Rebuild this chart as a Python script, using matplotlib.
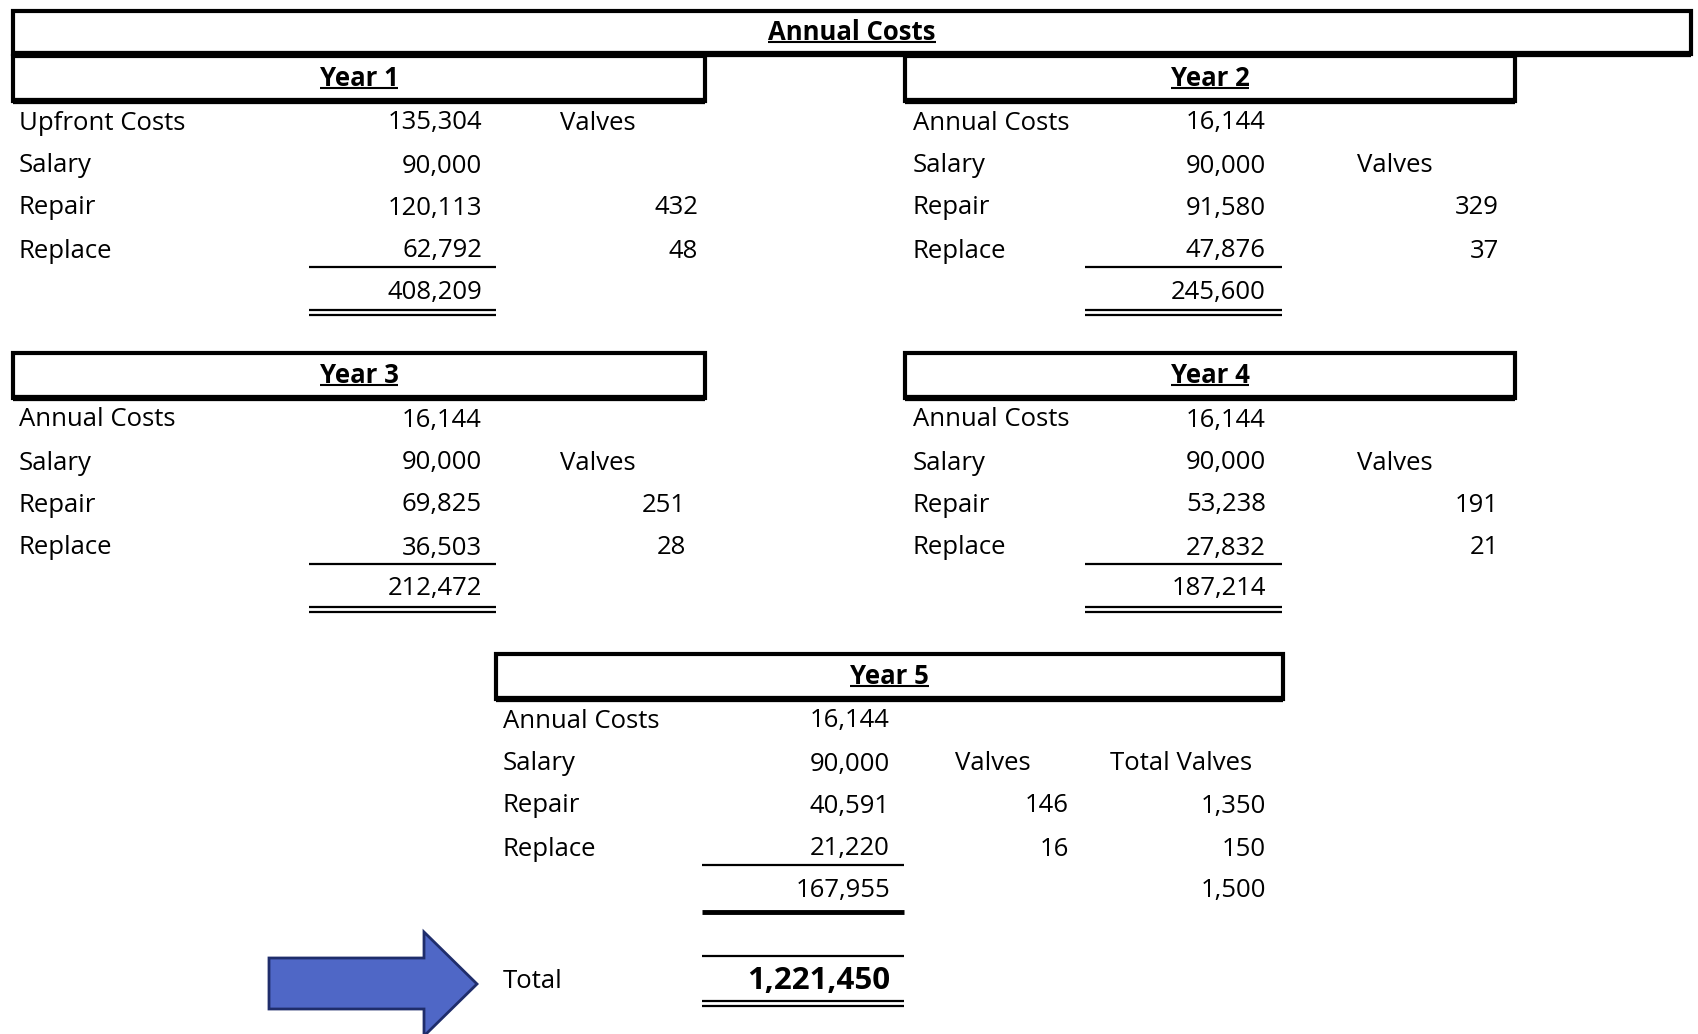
import matplotlib
matplotlib.use("Agg")
import matplotlib.pyplot as plt
from matplotlib.patches import Rectangle, Polygon

plt.rcParams['font.family'] = ['Open Sans', 'DejaVu Sans']

# ---- data ----
years = ["Year 1", "Year 2", "Year 3", "Year 4", "Year 5"]
first_labels = ["Upfront Costs", "Annual Costs", "Annual Costs", "Annual Costs", "Annual Costs"]
row_labels = ["Salary", "Repair", "Replace"]
first_costs = [135304, 16144, 16144, 16144, 16144]
salary = [90000, 90000, 90000, 90000, 90000]
repair = [120113, 91580, 69825, 53238, 40591]
replace = [62792, 47876, 36503, 27832, 21220]
subtotals = [408209, 245600, 212472, 187214, 167955]
valves_repair = [432, 329, 251, 191, 146]
valves_replace = [48, 37, 28, 21, 16]
valves_header_row = [0, 1, 1, 1, 1]
total_valves_repair = 1350
total_valves_replace = 150
total_valves = 1500
grand_total = 1221450

# panel layout: box left, box right, box top, label x, value right, valves x, valve num right, line x0, x1
panels = [
    (13, 705, 56, 19, 482, 560, 698, 309, 496),
    (905, 1515, 56, 913, 1266, 1357, 1499, 1085, 1282),
    (13, 705, 353, 19, 482, 560, 686, 309, 496),
    (905, 1515, 353, 913, 1266, 1357, 1499, 1085, 1282),
    (496, 1283, 654, 503, 890, 955, 1069, 702, 904),
]

FS = 18.5
fig = plt.figure(figsize=(16.98, 10.34), dpi=100)
ax = fig.add_axes([0, 0, 1, 1])
ax.set_xlim(0, 1698)
ax.set_ylim(1034, 0)
ax.axis('off')

titles = []


def box(x0, x1, y0, y1, title):
    ax.add_patch(Rectangle((x0, y0), x1 - x0, y1 - y0, fill=False, lw=3.0, ec='black'))
    ax.plot([x0, x1], [y1, y1], color='black', lw=4.5, solid_capstyle='butt')
    t = ax.text((x0 + x1) / 2, (y0 + y1) / 2, title, ha='center', va='center',
                fontsize=FS, fontweight='bold')
    titles.append(t)


def hline(y, x0, x1, lw=1.6):
    ax.plot([x0, x1], [y, y], color='black', lw=lw, solid_capstyle='butt')


box(13, 1691, 11, 54, "Annual Costs")

row_off = [67, 110, 152, 195, 236]
for i, (bl, br, bt, lx, vr, vx, nr, l0, l1) in enumerate(panels):
    box(bl, br, bt, bt + 45, years[i])
    ys = [bt + o for o in row_off]
    labels = [first_labels[i]] + row_labels
    vals = [first_costs[i], salary[i], repair[i], replace[i]]
    for j in range(4):
        ax.text(lx, ys[j], labels[j], ha='left', va='center', fontsize=FS)
        ax.text(vr, ys[j], f"{vals[j]:,}", ha='right', va='center', fontsize=FS)
    ax.text(vr, ys[4], f"{subtotals[i]:,}", ha='right', va='center', fontsize=FS)
    ax.text(vx, ys[valves_header_row[i]], "Valves", ha='left', va='center', fontsize=FS)
    ax.text(nr, ys[2], f"{valves_repair[i]:,}", ha='right', va='center', fontsize=FS)
    ax.text(nr, ys[3], f"{valves_replace[i]:,}", ha='right', va='center', fontsize=FS)
    line_y = bt + 211
    hline(line_y, l0, l1)
    if i < 4:
        hline(bt + 254, l0, l1)
        hline(bt + 259, l0, l1)
    else:
        hline(bt + 258, l0, l1, lw=3.5)
        # total valves column
        ax.text(1110, ys[1], "Total Valves", ha='left', va='center', fontsize=FS)
        ax.text(1266, ys[2], f"{total_valves_repair:,}", ha='right', va='center', fontsize=FS)
        ax.text(1266, ys[3], f"{total_valves_replace:,}", ha='right', va='center', fontsize=FS)
        ax.text(1266, ys[4], f"{total_valves:,}", ha='right', va='center', fontsize=FS)
        # grand total
        hline(956, l0, l1)
        ax.text(lx, 981, "Total", ha='left', va='center', fontsize=FS)
        ax.text(vr, 981, f"{grand_total:,}", ha='right', va='center', fontsize=FS + 4,
                fontweight='bold')
        hline(1001, l0, l1)
        hline(1006, l0, l1)

# arrow
arrow = Polygon([(269, 958), (424, 958), (424, 932), (477, 984), (424, 1036),
                 (424, 1009), (269, 1009)], closed=True, fc='#4F67C6', ec='#1F2D6B', lw=2.0)
ax.add_patch(arrow)

# underline titles
fig.canvas.draw()
r = fig.canvas.get_renderer()
inv = ax.transData.inverted()
for t in titles:
    bb = t.get_window_extent(r)
    (x0, y0), (x1, y1) = inv.transform([(bb.x0, bb.y0), (bb.x1, bb.y1)])
    hline(max(y0, y1) - 4, x0, x1, lw=1.5)

fig.savefig("out.png", dpi=100)
